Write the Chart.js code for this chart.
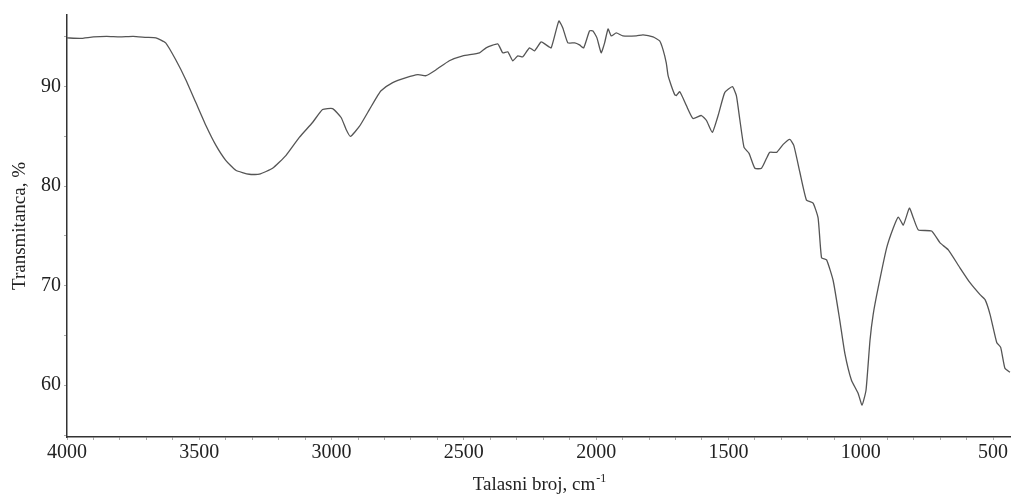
<!DOCTYPE html>
<html>
<head>
<meta charset="utf-8">
<script src="https://cdn.jsdelivr.net/npm/chart.js@4/dist/chart.umd.min.js"></script>
<style>
  html, body { margin: 0; padding: 0; background: #fff; }
  #wrap { width: 1011px; height: 495px; position: relative; }
</style>
</head>
<body>
<div id="wrap"><canvas id="ir"></canvas></div>
<script>
// FTIR spectrum: wavenumber (cm-1) and transmittance (%)
const wavenumbers = [
  4000, 3950, 3900, 3850, 3800, 3750, 3700, 3664, 3627, 3589, 3551, 3513, 3475, 3437, 3400,
  3362, 3311, 3273, 3223, 3172, 3122, 3072, 3034, 2996, 2964, 2945, 2929, 2895, 2857, 2826,
  2813, 2769, 2718, 2674, 2643, 2605, 2555, 2504, 2441, 2416, 2372, 2353, 2334, 2315, 2296,
  2277, 2252, 2233, 2208, 2189, 2170, 2141, 2126, 2107, 2081, 2063, 2047, 2025, 2012, 1997,
  1981, 1968, 1955, 1943, 1924, 1899, 1848, 1823, 1785, 1760, 1747, 1735, 1728, 1716, 1703,
  1697, 1684, 1659, 1634, 1602, 1583, 1561, 1539, 1514, 1485, 1470, 1457, 1441, 1422, 1400,
  1375, 1356, 1344, 1318, 1293, 1268, 1253, 1230, 1205, 1180, 1161, 1148, 1129, 1104, 1079,
  1060, 1035, 1010, 995, 980, 965, 953, 934, 902, 877, 858, 839, 816, 801, 782,
  732, 700, 669, 625, 587, 549, 530, 511, 486, 471, 455, 436
];
const transmittance = [
  94.9, 94.85, 95.0, 95.05, 95.0, 95.05, 94.95, 94.9, 94.4, 92.7, 90.7, 88.4, 86.1, 84.1, 82.6,
  81.6, 81.2, 81.2, 81.8, 83.1, 84.9, 86.4, 87.7, 87.8, 86.9, 85.7, 85.0, 86.0, 87.7, 89.1,
  89.6, 90.4, 90.9, 91.2, 91.1, 91.7, 92.6, 93.1, 93.4, 93.9, 94.3, 93.4, 93.5, 92.6, 93.1,
  93.0, 93.9, 93.6, 94.5, 94.2, 93.9, 96.6, 95.9, 94.4, 94.4, 94.2, 93.9, 95.6, 95.6, 94.9,
  93.4, 94.4, 95.8, 95.1, 95.4, 95.1, 95.1, 95.2, 95.0, 94.6, 93.7, 92.4, 91.1, 90.1, 89.2,
  89.1, 89.5, 88.1, 86.8, 87.1, 86.6, 85.4, 87.1, 89.4, 90.0, 89.1, 86.7, 83.9, 83.3, 81.8,
  81.8, 82.8, 83.4, 83.4, 84.2, 84.7, 84.1, 81.4, 78.6, 78.3, 76.8, 72.8, 72.6, 70.5, 66.5,
  63.2, 60.5, 59.2, 58.0, 59.5, 64.5, 67.1, 69.8, 73.8, 75.8, 76.9, 76.1, 77.8, 76.8, 75.6,
  75.5, 74.3, 73.6, 71.8, 70.3, 69.1, 68.6, 67.1, 64.3, 63.8, 61.7, 61.3
];

// Axis ticks: labelled majors plus unlabelled minors
const xMajorTicks = [4000, 3500, 3000, 2500, 2000, 1500, 1000, 500];
const xMinorStep = 100;
const yMajorTicks = [60, 70, 80, 90];
const yMinorTicks = [55, 65, 75, 85, 95];

const xTitle = 'Talasni broj, cm';
const xTitleSup = '-1';
const yTitle = 'Transmitanca, %';

const SERIF = "'Liberation Serif', 'Times New Roman', serif";
Chart.defaults.font.family = SERIF;
Chart.defaults.color = '#222';

const points = wavenumbers.map((w, i) => ({ x: w, y: transmittance[i] }));

// x-axis title with superscript unit exponent
const xTitlePlugin = {
  id: 'xTitleSup',
  afterDraw(chart) {
    const { ctx, chartArea } = chart;
    const cx = (chartArea.left + chartArea.right) / 2;
    const baseY = 490;
    ctx.save();
    ctx.fillStyle = '#222';
    ctx.textBaseline = 'alphabetic';
    ctx.font = '19px ' + SERIF;
    const w1 = ctx.measureText(xTitle).width;
    ctx.font = '12px ' + SERIF;
    const w2 = ctx.measureText(xTitleSup).width;
    const start = cx - (w1 + w2) / 2;
    ctx.font = '19px ' + SERIF;
    ctx.fillText(xTitle, start, baseY);
    ctx.font = '12px ' + SERIF;
    ctx.fillText(xTitleSup, start + w1 + 1, baseY - 8);
    ctx.restore();
  }
};

new Chart(document.getElementById('ir'), {
  type: 'line',
  data: {
    datasets: [{
      data: points,
      borderColor: '#555',
      borderWidth: 1.3,
      pointRadius: 0,
      tension: 0.15,
      fill: false
    }]
  },
  options: {
    responsive: true,
    maintainAspectRatio: false,
    animation: false,
    events: [],
    layout: { padding: { top: 12, right: 0, left: 0, bottom: 0 } },
    plugins: { legend: { display: false }, tooltip: { enabled: false } },
    scales: {
      x: {
        type: 'linear',
        reverse: true,
        min: 432,
        max: 4000,
        afterBuildTicks(scale) {
          const t = [];
          for (let v = 4000; v >= 500; v -= xMinorStep) t.push({ value: v });
          scale.ticks = t;
        },
        afterFit(scale) { scale.height = 58; },
        border: { color: '#333', width: 1.5 },
        grid: { drawOnChartArea: false, drawTicks: true, tickLength: 3, color: '#aaa' },
        ticks: {
          autoSkip: false,
          maxRotation: 0,
          padding: 1,
          color: '#222',
          font: { size: 20, family: SERIF },
          callback: (v) => xMajorTicks.includes(v) ? String(v) : ''
        },
        title: { display: false }
      },
      y: {
        min: 54.8,
        max: 97.2,
        afterBuildTicks(scale) {
          scale.ticks = yMajorTicks.concat(yMinorTicks).sort((a, b) => a - b).map(v => ({ value: v }));
        },
        afterFit(scale) { scale.width = 67; },
        border: { color: '#333', width: 1.5 },
        grid: { drawOnChartArea: false, drawTicks: true, tickLength: 3, color: '#aaa' },
        ticks: {
          padding: 3,
          color: '#222',
          font: { size: 20, family: SERIF },
          callback: (v) => yMajorTicks.includes(v) ? String(v) : ''
        },
        title: {
          display: true,
          text: yTitle,
          color: '#222',
          font: { size: 19, family: SERIF },
          padding: { top: 9, bottom: 0 }
        }
      }
    }
  },
  plugins: [xTitlePlugin]
});
</script>
</body>
</html>
